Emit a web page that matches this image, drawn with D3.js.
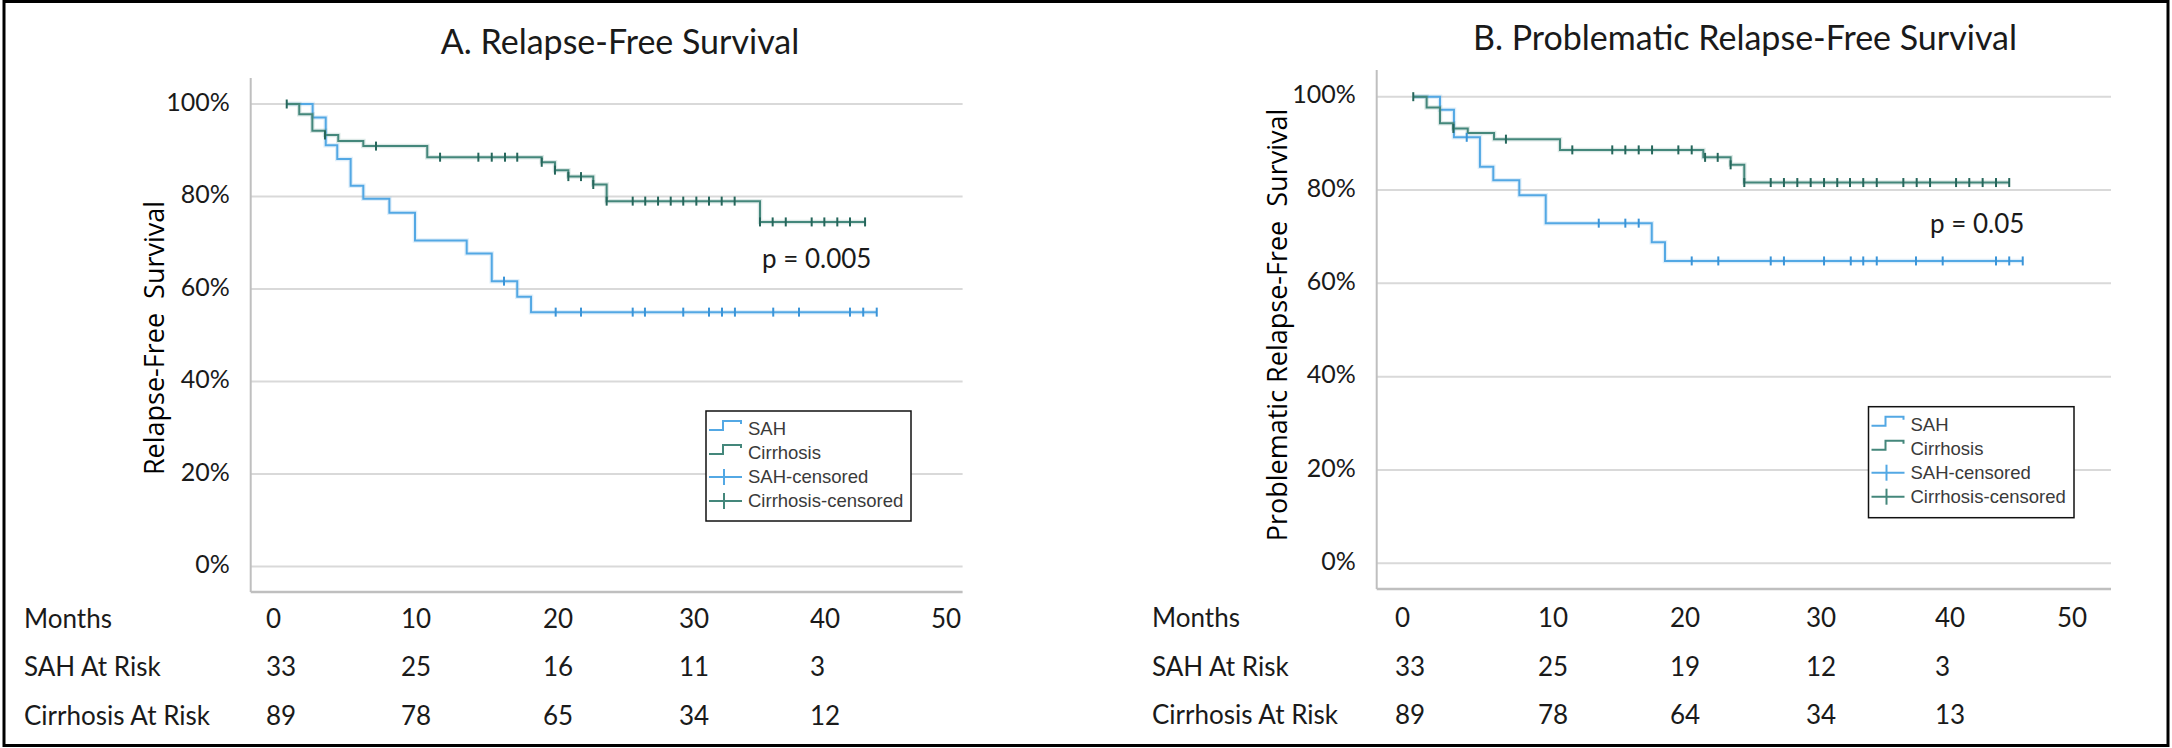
<!DOCTYPE html>
<html><head><meta charset="utf-8">
<script src="https://cdn.jsdelivr.net/npm/d3@7"></script>
<style>
html,body{margin:0;padding:0;background:#fff;}
svg{display:block;}
</style></head><body>
<svg id="chart" width="2172" height="748"></svg>
<script>
// ---------------- DATA ----------------
const monthTicks = [0, 10, 20, 30, 40, 50];
const yTicks = [0, 20, 40, 60, 80, 100];
const legendLabels = ["SAH", "Cirrhosis", "SAH-censored", "Cirrhosis-censored"];
const rowLabels = ["Months", "SAH At Risk", "Cirrhosis At Risk"];

// Panel A
const titleA = "A. Relapse-Free Survival";
const yTitleA = "Relapse-Free  Survival";
const pValueA = "p = 0.005";
const sahAtRiskA = [33, 25, 16, 11, 3];
const cirAtRiskA = [89, 78, 65, 34, 12];
// [month, survival %] : survival from that month onward
const sahStepsA = [[2.53,100],[4.35,97.1],[5.27,91.1],[6.08,88.1],[7.02,82.3],[7.91,79.5],[9.74,76.5],[11.54,70.5],[15.17,67.7],[16.93,61.7],[18.72,58.3],[19.69,55.0],[43.97,55.0]];
const cirStepsA = [[2.53,100],[3.41,97.8],[4.33,94.2],[5.22,93.3],[6.15,92.0],[7.91,90.9],[12.40,88.5],[20.44,87.4],[21.37,85.7],[22.31,84.3],[24.06,82.6],[25.00,79.0],[35.77,74.5],[43.15,74.5]];
const sahCensA = [[17.79,61.7],[21.42,55],[23.20,55],[26.83,55],[27.69,55],[30.38,55],[32.19,55],[33.10,55],[34.01,55],[36.70,55],[38.51,55],[42.09,55],[43.02,55],[43.97,55]];
const cirCensA = [[2.53,100],[5.22,93.3],[8.80,90.9],[13.30,88.5],[15.99,88.5],[16.93,88.5],[17.86,88.5],[18.72,88.5],[20.44,87.4],[21.37,85.7],[22.31,84.3],[23.20,84.3],[24.06,82.6],[25.00,79.0],[26.83,79.0],[27.71,79.0],[28.61,79.0],[29.50,79.0],[30.38,79.0],[31.30,79.0],[32.19,79.0],[33.08,79.0],[33.99,79.0],[35.77,74.5],[36.66,74.5],[37.58,74.5],[39.40,74.5],[40.29,74.5],[41.20,74.5],[42.09,74.5],[43.15,74.5]];

// Panel B
const titleB = "B. Problematic Relapse-Free Survival";
const yTitleB = "Problematic Relapse-Free  Survival";
const pValueB = "p = 0.05";
const sahAtRiskB = [33, 25, 19, 12, 3];
const cirAtRiskB = [89, 78, 64, 34, 13];
const sahStepsB = [[2.49,100],[4.31,97.2],[5.26,91.3],[7.03,85.0],[7.94,82.1],[9.71,78.9],[11.51,72.9],[18.73,68.8],[19.63,64.8],[43.99,64.8]];
const cirStepsB = [[2.49,100],[3.40,97.7],[4.31,94.3],[5.22,93.2],[6.20,92.2],[7.99,90.9],[12.48,88.6],[22.24,87.0],[24.10,85.4],[25.03,81.6],[43.07,81.6]];
const sahCensB = [[6.13,91.3],[15.12,72.9],[16.93,72.9],[17.84,72.9],[21.45,64.8],[23.26,64.8],[26.83,64.8],[27.73,64.8],[30.46,64.8],[32.28,64.8],[33.13,64.8],[34.05,64.8],[36.72,64.8],[38.54,64.8],[42.17,64.8],[43.07,64.8],[43.99,64.8]];
const cirCensB = [[2.49,100],[5.22,93.2],[8.80,90.9],[13.32,88.6],[16.04,88.6],[16.93,88.6],[17.84,88.6],[18.75,88.6],[20.54,88.6],[21.45,88.6],[22.36,87.0],[23.22,87.0],[24.10,85.4],[25.03,81.6],[26.83,81.6],[27.73,81.6],[28.64,81.6],[29.55,81.6],[30.46,81.6],[31.36,81.6],[32.23,81.6],[33.13,81.6],[34.05,81.6],[35.86,81.6],[36.77,81.6],[37.68,81.6],[39.45,81.6],[40.35,81.6],[41.26,81.6],[42.17,81.6],[43.07,81.6]];

// ---------------- STYLE / LAYOUT ----------------
const C = { sah: "#53a8e4", sahMark: "#3a94d8", cir: "#44877b", cirMark: "#25665b", grid: "#d9d9d9", axis: "#bfbfbf", text: "#1a1a1a" };
const FONT = "Lato, 'Open Sans', sans-serif";

const panels = [
  { title: titleA, yTitle: yTitleA, p: pValueA, sahSteps: sahStepsA, cirSteps: cirStepsA, sahCens: sahCensA, cirCens: cirCensA, sahRisk: sahAtRiskA, cirRisk: cirAtRiskA,
    L: { axisX: 250.7, right: 962.6, y0: 566.5, y100: 104, top: 78, bottom: 592, titleX: 620, titleY: 54,
         yTitleX: 164, yTitleY: 338, pX: 762, pY: 268, legend: { x: 706, y: 411, w: 205, h: 110 },
         tableX: 24, tableRows: [619, 667, 716], tableCols: [266, 401, 543, 679, 810, 931] } },
  { title: titleB, yTitle: yTitleB, p: pValueB, sahSteps: sahStepsB, cirSteps: cirStepsB, sahCens: sahCensB, cirCens: cirCensB, sahRisk: sahAtRiskB, cirRisk: cirAtRiskB,
    L: { axisX: 1376.7, right: 2111, y0: 563.3, y100: 96.7, top: 70, bottom: 589, titleX: 1745, titleY: 50,
         yTitleX: 1287, yTitleY: 325, pX: 1930, pY: 233, legend: { x: 1868.5, y: 406.7, w: 205.5, h: 111 },
         tableX: 1152, tableRows: [618, 667, 715], tableCols: [1395, 1538, 1670, 1806, 1935, 2057] } }
];

const svg = d3.select("#chart");
svg.append("rect").attr("width", 2172).attr("height", 748).attr("fill", "#fff");
svg.append("rect").attr("x", 4).attr("y", 1.5).attr("width", 2164).attr("height", 744)
  .attr("fill", "none").attr("stroke", "#000").attr("stroke-width", 3);

panels.forEach(P => {
  const L = P.L;
  const g = svg.append("g");
  const x = d3.scaleLinear().domain([0, 50]).range([L.axisX, L.right]);
  const y = d3.scaleLinear().domain([0, 100]).range([L.y0, L.y100]);
  // table column layout scale (months -> text column)
  const col = d3.scaleLinear().domain(monthTicks).range(L.tableCols);

  // gridlines
  g.selectAll(".grid").data(yTicks).join("line")
    .attr("x1", L.axisX).attr("x2", L.right)
    .attr("y1", d => y(d)).attr("y2", d => y(d))
    .attr("stroke", C.grid).attr("stroke-width", 2);
  // axes
  g.append("line").attr("x1", L.axisX).attr("x2", L.axisX).attr("y1", L.top).attr("y2", L.bottom)
    .attr("stroke", C.axis).attr("stroke-width", 2);
  g.append("line").attr("x1", L.axisX).attr("x2", L.right).attr("y1", L.bottom).attr("y2", L.bottom)
    .attr("stroke", C.axis).attr("stroke-width", 2.5);

  // y tick labels
  g.selectAll(".yt").data(yTicks).join("text")
    .attr("x", L.axisX - 21).attr("y", d => y(d) - 2).attr("dy", "0.35em")
    .attr("text-anchor", "end").attr("font-family", FONT).attr("font-size", 25).attr("fill", C.text)
    .text(d => d + "%");

  // curves
  const line = d3.line().x(d => x(d[0])).y(d => y(d[1])).curve(d3.curveStepAfter);
  [[P.sahSteps, C.sah], [P.cirSteps, C.cir]].forEach(([data, color]) => {
    g.append("path").datum(data).attr("d", line).attr("fill", "none")
      .attr("stroke", color).attr("stroke-width", 4.5).attr("stroke-opacity", 0.18);
    g.append("path").datum(data).attr("d", line).attr("fill", "none")
      .attr("stroke", color).attr("stroke-width", 2);
  });
  // censor marks
  [[P.sahCens, C.sahMark], [P.cirCens, C.cirMark]].forEach(([data, color]) => {
    g.selectAll(null).data(data).join("line")
      .attr("x1", d => x(d[0])).attr("x2", d => x(d[0]))
      .attr("y1", d => y(d[1]) - 4.5).attr("y2", d => y(d[1]) + 4.5)
      .attr("stroke", color).attr("stroke-width", 2);
  });

  // titles
  g.append("text").attr("x", L.titleX).attr("y", L.titleY).attr("text-anchor", "middle")
    .attr("font-family", FONT).attr("font-size", 34).attr("fill", C.text).text(P.title);
  g.append("text").attr("transform", `translate(${L.yTitleX},${L.yTitleY}) rotate(-90)`)
    .attr("text-anchor", "middle").attr("font-family", "'Open Sans', sans-serif").attr("font-size", 27)
    .style("white-space", "pre").attr("fill", "#000").text(P.yTitle);
  g.append("text").attr("x", L.pX).attr("y", L.pY).attr("font-family", FONT).attr("font-size", 26)
    .attr("fill", C.text).text(P.p);

  // legend
  const lg = L.legend;
  const leg = g.append("g");
  leg.append("rect").attr("x", lg.x).attr("y", lg.y).attr("width", lg.w).attr("height", lg.h)
    .attr("fill", "#fff").attr("stroke", "#111").attr("stroke-width", 1.5);
  const colors = [C.sah, C.cir, C.sah, C.cir];
  legendLabels.forEach((lab, i) => {
    const cy = lg.y + 18 + i * 24;
    const x0 = lg.x + 3;
    if (i < 2) {
      leg.append("path").attr("d", `M${x0},${cy + 1}H${x0 + 14}V${cy - 8}H${x0 + 32}V${cy - 5}`)
        .attr("fill", "none").attr("stroke", colors[i]).attr("stroke-width", 2);
    } else {
      leg.append("line").attr("x1", x0).attr("x2", x0 + 33).attr("y1", cy).attr("y2", cy)
        .attr("stroke", colors[i]).attr("stroke-width", 2);
      leg.append("line").attr("x1", x0 + 15).attr("x2", x0 + 15).attr("y1", cy - 8).attr("y2", cy + 8)
        .attr("stroke", colors[i]).attr("stroke-width", 2);
    }
    leg.append("text").attr("x", lg.x + 42).attr("y", cy).attr("dy", "0.35em")
      .attr("font-family", "'Liberation Sans', Arial, sans-serif").attr("font-size", 18.5)
      .attr("fill", "#3a3a3a").text(lab);
  });

  // at-risk table
  const tbl = g.append("g").attr("font-family", FONT).attr("font-size", 26).attr("fill", C.text);
  rowLabels.forEach((lab, r) => {
    tbl.append("text").attr("x", L.tableX).attr("y", L.tableRows[r]).attr("dy", "0.35em").text(lab);
  });
  const rows = [monthTicks, P.sahRisk, P.cirRisk];
  rows.forEach((vals, r) => {
    tbl.selectAll(null).data(vals).join("text")
      .attr("x", (d, i) => col(monthTicks[i])).attr("y", L.tableRows[r]).attr("dy", "0.35em")
      .text(d => d);
  });
});
</script>
</body></html>
